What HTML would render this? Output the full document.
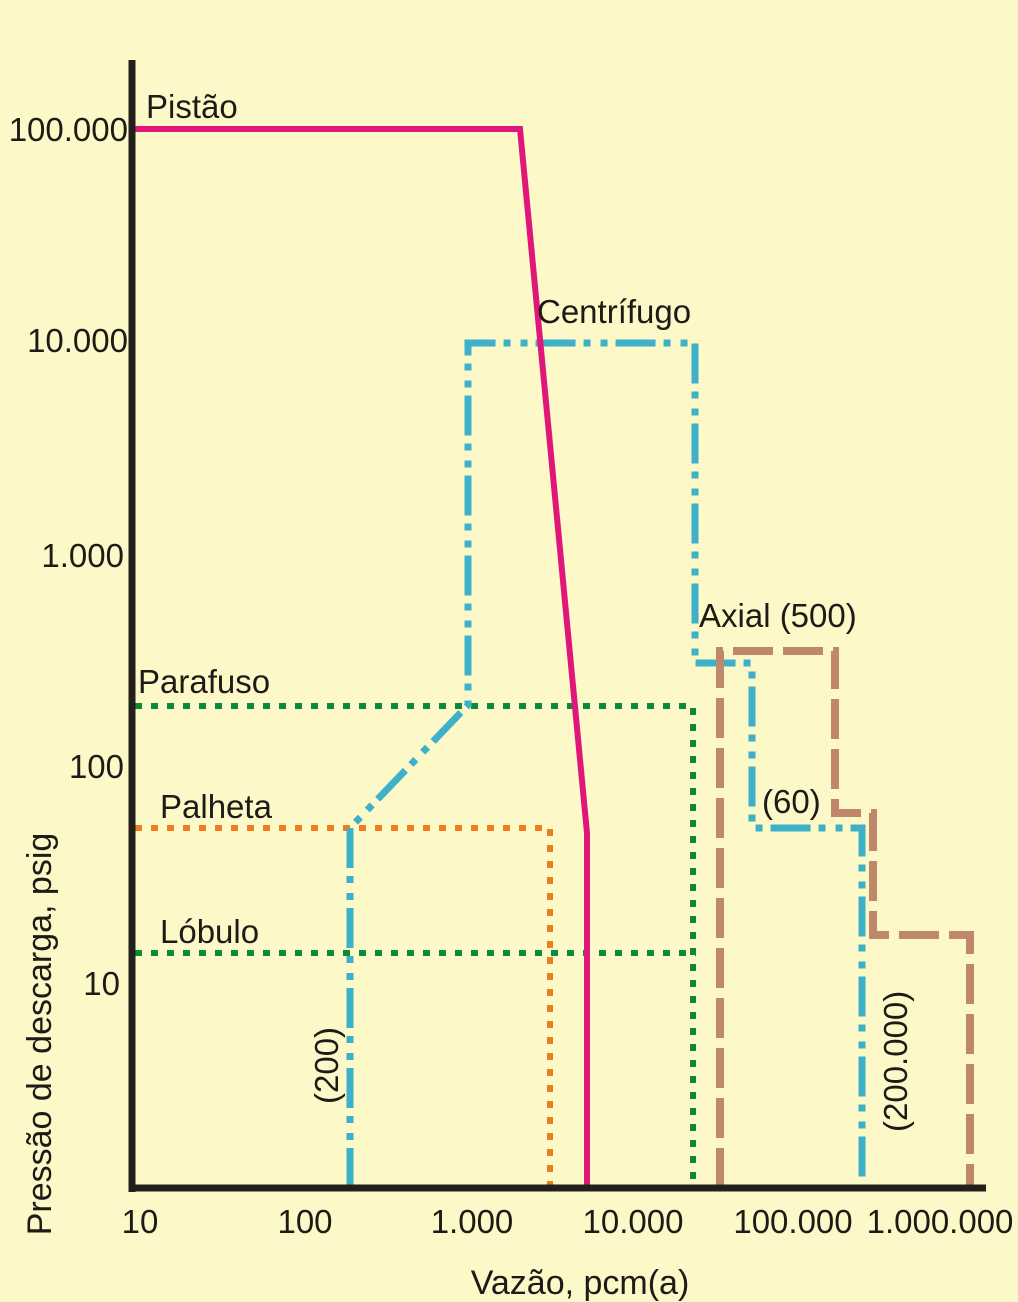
<!DOCTYPE html>
<html><head><meta charset="utf-8"><style>
html,body{margin:0;padding:0;background:#fdf8c8;}
svg{display:block;font-family:"Liberation Sans",sans-serif;}
</style></head><body>
<svg width="1018" height="1302" viewBox="0 0 1018 1302" xmlns="http://www.w3.org/2000/svg">
<rect width="1018" height="1302" fill="#fdf8c8"/>
<g fill="none">
<polyline points="135,706 693,706 693,1188" stroke="#0b8a3c" stroke-width="6" stroke-dasharray="7,9"/>
<polyline points="135,953 696,953" stroke="#0b8a3c" stroke-width="6" stroke-dasharray="7,9"/>
<polyline points="135,828 550,828 550,1188" stroke="#ee7d22" stroke-width="6" stroke-dasharray="7,9"/>
<polyline points="350,1188 350,828 468,705 468,343 695,343 695,663 752,663 752,828 862,828 862,1188" stroke="#3db1c9" stroke-width="7" stroke-dasharray="40,8,7,10,7,8"/>
<polyline points="720,1188 720,651 835,651 835,813 873,813 873,935 970,935 970,1188" stroke="#c0886a" stroke-width="8" stroke-dasharray="40,10"/>
<polyline points="132,129 520,129 587,833 587,1188" stroke="#e0177a" stroke-width="6"/>
</g>
<line x1="132" y1="60" x2="132" y2="1192" stroke="#231f1a" stroke-width="7"/>
<line x1="129" y1="1188" x2="986" y2="1188" stroke="#231f1a" stroke-width="7"/>
<g font-size="33" fill="#1e1a16" text-anchor="end">
<text x="128" y="141">100.000</text>
<text x="128" y="352">10.000</text>
<text x="124" y="567">1.000</text>
<text x="124" y="778">100</text>
<text x="120" y="995">10</text>
</g>
<g font-size="33" fill="#1e1a16" text-anchor="middle">
<text x="140" y="1233">10</text>
<text x="305" y="1233">100</text>
<text x="472" y="1233">1.000</text>
<text x="633" y="1233">10.000</text>
<text x="793" y="1233">100.000</text>
<text x="940" y="1233">1.000.000</text>
<text x="580" y="1294" font-size="34">Vazão, pcm(a)</text>
<text transform="translate(51,1034) rotate(-90)" font-size="34">Pressão de descarga, psig</text>
</g>
<g font-size="33" fill="#1e1a16">
<text x="146" y="118">Pistão</text>
<text x="537" y="323">Centrífugo</text>
<text x="699" y="627">Axial (500)</text>
<text x="138" y="693">Parafuso</text>
<text x="160" y="818">Palheta</text>
<text x="762" y="813">(60)</text>
<text x="160" y="943">Lóbulo</text>
<text transform="translate(338,1104) rotate(-90)">(200)</text>
<text transform="translate(907,1132) rotate(-90)">(200.000)</text>
</g>
</svg>
</body></html>
